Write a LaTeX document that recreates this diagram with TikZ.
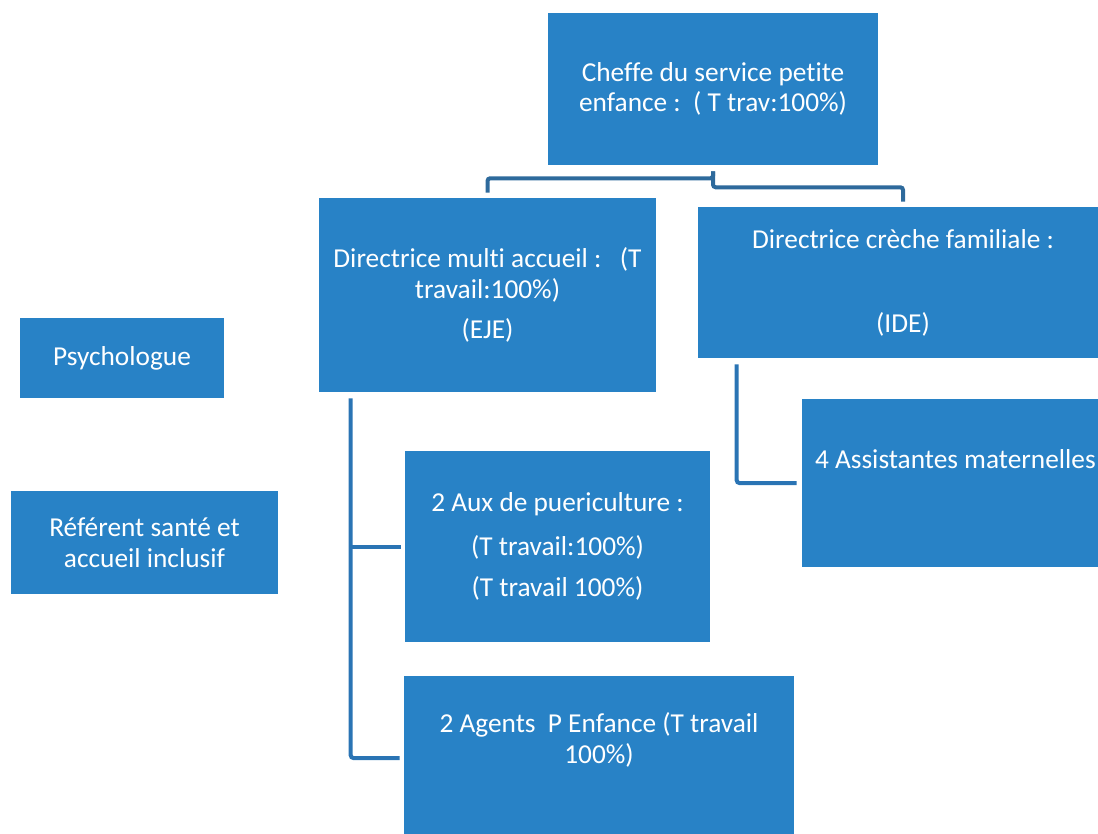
\documentclass[tikz,border=0pt]{standalone}
\usepackage{fontspec}
\setmainfont{Carlito}[Ligatures={NoCommon}]
\usepackage{xcolor}
\usetikzlibrary{positioning}
\definecolor{boxblue}{HTML}{2882C6}
\definecolor{linedark}{HTML}{2E6A9C}
\definecolor{lineblue}{HTML}{2A74B4}
\tikzset{%
  orgbox/.style={rectangle,fill=boxblue,draw=none,text=white,align=center,inner sep=0pt,font=\fontsize{20.5}{23}\selectfont}
}
\tikzset{%
  orgtext/.style={text=white,align=center,inner sep=0pt,font=\fontsize{20.5}{23}\selectfont}
}
\tikzset{%
  orgline/.style={draw=lineblue,line width=3pt,rounded corners=2pt}
}

\begin{document}
\begin{tikzpicture}[x=0.75pt,y=-0.75pt]
  \useasboundingbox (0,0) rectangle (1098,833);
  \clip (0,0) rectangle (1098,833);

  \node[orgbox,minimum width=247.5pt,minimum height=114pt](cheffe) at (713,89){Cheffe du service petite\\enfance :\ \ ( T trav:100\%)};
  \node[orgbox,minimum width=252.75pt,minimum height=145.5pt](multi) at (487.5,295){Directrice multi accueil :\ \ \ (T\\travail:100\%)\\[7.5pt](EJE)};
  \node[orgbox,minimum width=307.5pt,minimum height=113.25pt](creche) at (903,282.5){Directrice crèche familiale :\\[40pt](IDE)};

  \node[orgbox,minimum width=153pt,minimum height=60pt](psy) at (122,358){Psychologue};
  \node[orgbox,minimum width=200.25pt,minimum height=77.25pt](referent) at (144.5,542.5){Référent santé et\\accueil inclusif};

  \node[orgbox,minimum width=228.75pt,minimum height=143.25pt](aux) at (557.5,546.5){2 Aux de puericulture :\\[10pt](T travail:100\%)\\[8pt](T travail 100\%)};
  \node[orgbox,minimum width=292.5pt,minimum height=123pt](agents) at (599,758){};
  \node[orgtext](agentstxt) at ([yshift=13.5pt]agents.center){2 Agents\ \ P Enfance (T travail\\100\%)};

  \node[orgbox,minimum width=268.5pt,minimum height=126pt](assist) at (981,483){};
  \node[orgtext,anchor=west](assisttxt) at ([xshift=9.75pt,yshift=18pt]assist.west){4 Assistantes maternelles};

  % liaisons
  \draw[orgline,draw=linedark] ([yshift=-4.5pt]cheffe.south) -- ++(0,7) -| ([yshift=3.75pt]multi.north);
  \draw[orgline,draw=linedark] ([yshift=-4.5pt]cheffe.south) -- ++(0,16) -| ([yshift=3.75pt]creche.north);

  \coordinate (mtrunk) at ([xshift=24pt,yshift=-4.5pt]multi.south west);
  \draw[orgline] (mtrunk) |- ([xshift=-3pt]agents.west);
  \draw[orgline] (mtrunk |- aux.west) -- ([xshift=-3pt]aux.west);

  \coordinate (ctrunk) at ([xshift=29.25pt,yshift=-4.5pt]creche.south west);
  \draw[orgline] (ctrunk) |- ([xshift=-3.75pt]assist.west);
\end{tikzpicture}
\end{document}
